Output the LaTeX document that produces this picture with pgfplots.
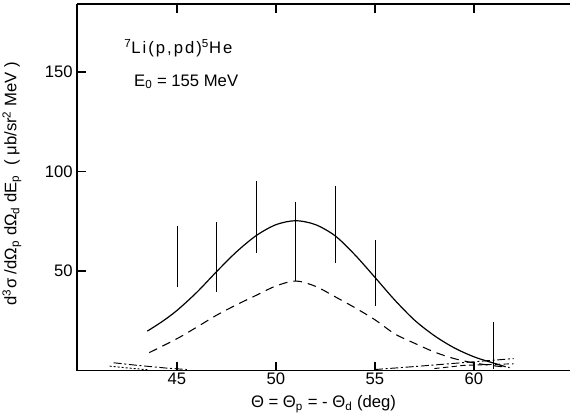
\documentclass[border=0pt]{standalone}
\usepackage{fontspec}
\setmainfont{Liberation Sans}
\usepackage{pgfplots}
\pgfplotsset{compat=1.18}
\usetikzlibrary{calc}
\newcommand\ff{\fontsize{12.5}{15}\selectfont}

\begin{document}
\begin{tikzpicture}
\begin{axis}[
  scale only axis, width=369.75pt, height=274.9pt,
  xmin=39.95, xmax=64.85, ymin=0, ymax=184.2,
  axis x line*=box, axis y line*=left,
  axis line style={line width=1.1pt},
  tick align=inside, major tick length=6.5pt,
  every tick/.style={black, line width=1pt},
  xtick={45,50,55,60}, ytick={50,100,150},
  xtick pos=both, ytick pos=left,
  /pgf/number format/assume math mode=true,
  tick label style={font=\ff},
  xticklabel style={inner sep=1.5pt},
  yticklabel style={inner sep=3pt},
  xlabel={Θ = Θ\textsubscript{p} = - Θ\textsubscript{d} (deg)},
  xlabel style={font=\ff, at={(axis description cs:0.5,-0.0914)}, anchor=center},
  ylabel={d\textsuperscript{3}σ /dΩ\textsubscript{p} dΩ\textsubscript{d} dE\textsubscript{p} \ ( μb/sr\textsuperscript{2} MeV )},
  ylabel style={font=\ff, at={(axis description cs:-0.132,0.51)}, anchor=center},
  clip=false]

% calculated curves
\addplot[black, line width=0.9pt, smooth] coordinates {
 (43.5,19.8)(44.25,24.6)(45,30.2)(46,39.3)(47,49.7)(48,59.6)(49,67.8)(50,73.3)(51,75.3)
 (52,73.3)(53,67.6)(54,58.0)(55,46.8)(56,35.4)(57,25.3)(58,17.5)(59,11.4)(60,6.9)(61,3.7)(61.6,1.9)};
\addplot[black, line width=0.8pt, smooth, dash pattern=on 6.5pt off 4.5pt] coordinates {
 (43.6,9)(45,16)(46,21.8)(47,27.8)(48,33)(49,37.8)(50,42.5)(51,45)(52,42.3)(53,37)
 (54,31.5)(55,25.5)(56,18.4)(57,13.7)(58,9.3)(59,6)(60,3.8)(61,2.4)(61.8,1.5)};
% small contributions near the baseline
\addplot[black, line width=0.7pt, dash pattern=on 6pt off 2pt on 1.5pt off 2pt] coordinates {
 (41.8,3.9)(43,2.6)(44.5,1.2)(45.5,0.5)};
\addplot[black, line width=0.7pt, dash pattern=on 1.5pt off 1.5pt] coordinates {
 (41.6,2.2)(42.5,1.3)(43.5,0.4)};
\addplot[black, line width=0.7pt, dash pattern=on 6pt off 2pt on 1.5pt off 2pt] coordinates {
 (55,0.5)(57,2)(59,3.6)(60.5,4.8)(62,6)};
\addplot[black, line width=0.7pt, dash pattern=on 4pt off 2.5pt] coordinates {
 (58,1)(59.5,2.6)(62,3.4)};

% data
\addplot[draw=none, mark=none,
  error bars/.cd, y dir=both, y explicit, error mark=none,
  error bar style={draw=black, solid, line width=0.6pt}] coordinates {
 (45,57.2) +- (0,15.4)
 (47,57.1) +- (0,17.5)
 (49,77.15) +- (0,18.25)
 (51,64.9) +- (0,19.9)
 (53,73.3) +- (0,19.4)
 (55,49.0) +- (0,16.6)
 (61,12.55) +- (0,11.95)};

\node[font=\ff, anchor=west] at (axis cs:42.1,162) {\addfontfeatures{LetterSpace=12}\textsuperscript{7}Li(p,pd)\textsuperscript{5}He};
\node[font=\ff, anchor=west] at (axis cs:42.6,145) {E\textsubscript{0} = 155 MeV};

\coordinate (O) at (rel axis cs:0,0);
\coordinate (T) at (rel axis cs:1,1);
\end{axis}
\pgfresetboundingbox
\useasboundingbox ($(O)+(-57.75pt,-36.4pt)$) rectangle ($(T)+(0pt,3pt)$);
\end{tikzpicture}
\end{document}
